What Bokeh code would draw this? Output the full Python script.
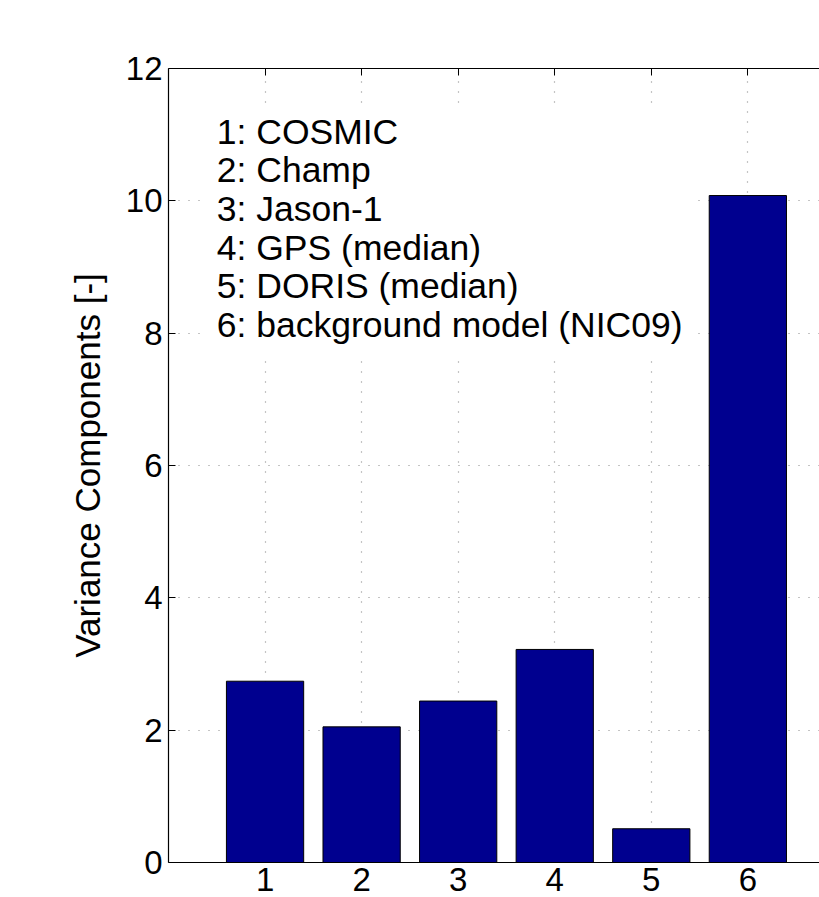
from bokeh.plotting import figure
from bokeh.models import ColumnDataSource, FixedTicker, LinearAxis, Range1d
from bokeh.embed import file_html
from bokeh.resources import INLINE
from bokeh.core.properties import value

# ---------------- data ----------------
positions = [1, 2, 3, 4, 5, 6]
variance = [2.74, 2.05, 2.44, 3.22, 0.51, 10.08]
x_tick_labels = ["1", "2", "3", "4", "5", "6"]
y_ticks = [0, 2, 4, 6, 8, 10, 12]
legend_lines = [
    "1: COSMIC",
    "2: Champ",
    "3: Jason-1",
    "4: GPS (median)",
    "5: DORIS (median)",
    "6: background model (NIC09)",
]

FONT = "Liberation Sans"
BAR_COLOR = "#00008F"

p = figure(
    width=819, height=897,
    output_backend="svg", toolbar_location=None,
    x_range=Range1d(0, 6.742), y_range=Range1d(0, 12),
    min_border_left=168, min_border_top=68, min_border_bottom=35, min_border_right=0,
)
p.outline_line_color = None
p.background_fill_color = "white"
p.border_fill_color = "white"

# grids
p.xgrid.ticker = FixedTicker(ticks=positions)
p.ygrid.ticker = FixedTicker(ticks=y_ticks)
for g in (p.xgrid, p.ygrid):
    g.grid_line_color = "#8a8a8a"
    g.grid_line_dash = "1 9"
    g.grid_line_width = 1.2

# white box behind the annotation text
p.quad(left=0.36, right=5.46, bottom=7.62, top=11.42, fill_color="white", line_color=None)

# bars
src = ColumnDataSource(dict(x=positions, top=variance))
p.vbar(x="x", top="top", bottom=0, width=0.8, source=src,
       fill_color=BAR_COLOR, line_color="black", line_width=1)

# annotation text
line_start = 11.045
line_step = 0.5846
legend_y = [line_start - i * line_step for i in range(len(legend_lines))]
p.text(x=[0.5] * len(legend_lines), y=legend_y, text=legend_lines,
       text_font=value(FONT), text_font_size="35.5px", text_color="black",
       text_baseline="alphabetic", text_align="left")

# bottom axis
xa = p.xaxis[0]
xa.ticker = FixedTicker(ticks=positions)
xa.major_label_overrides = {pos: lbl for pos, lbl in zip(positions, x_tick_labels)}
xa.major_label_text_font = FONT
xa.major_label_text_font_size = "33px"
xa.major_label_text_color = "black"
xa.major_label_standoff = 5
xa.major_tick_in = 0
xa.major_tick_out = 0
xa.minor_tick_line_color = None
xa.axis_line_color = "black"
xa.axis_line_width = 1.2

# left axis
ya = p.yaxis[0]
ya.ticker = FixedTicker(ticks=y_ticks)
ya.major_label_text_font = FONT
ya.major_label_text_font_size = "33px"
ya.major_label_text_color = "black"
ya.major_label_standoff = 6
ya.major_tick_in = 7
ya.major_tick_out = 0
ya.major_tick_line_color = "black"
ya.minor_tick_line_color = None
ya.axis_line_color = "black"
ya.axis_line_width = 1.2
ya.axis_label = "Variance Components [-]"
ya.axis_label_text_font = FONT
ya.axis_label_text_font_size = "35px"
ya.axis_label_text_font_style = "normal"
ya.axis_label_text_color = "black"
ya.axis_label_standoff = 16

# top mirror axis (ticks only, labels not drawn)
top_axis = LinearAxis(ticker=FixedTicker(ticks=positions))
top_axis.major_label_text_color = None
top_axis.major_label_text_font_size = "1px"
top_axis.major_label_standoff = 0
top_axis.major_tick_in = 7
top_axis.major_tick_out = 0
top_axis.major_tick_line_color = "black"
top_axis.minor_tick_line_color = None
top_axis.axis_line_color = "black"
top_axis.axis_line_width = 1.2
p.add_layout(top_axis, "above")

open("out.html", "w").write(file_html(p, INLINE))
